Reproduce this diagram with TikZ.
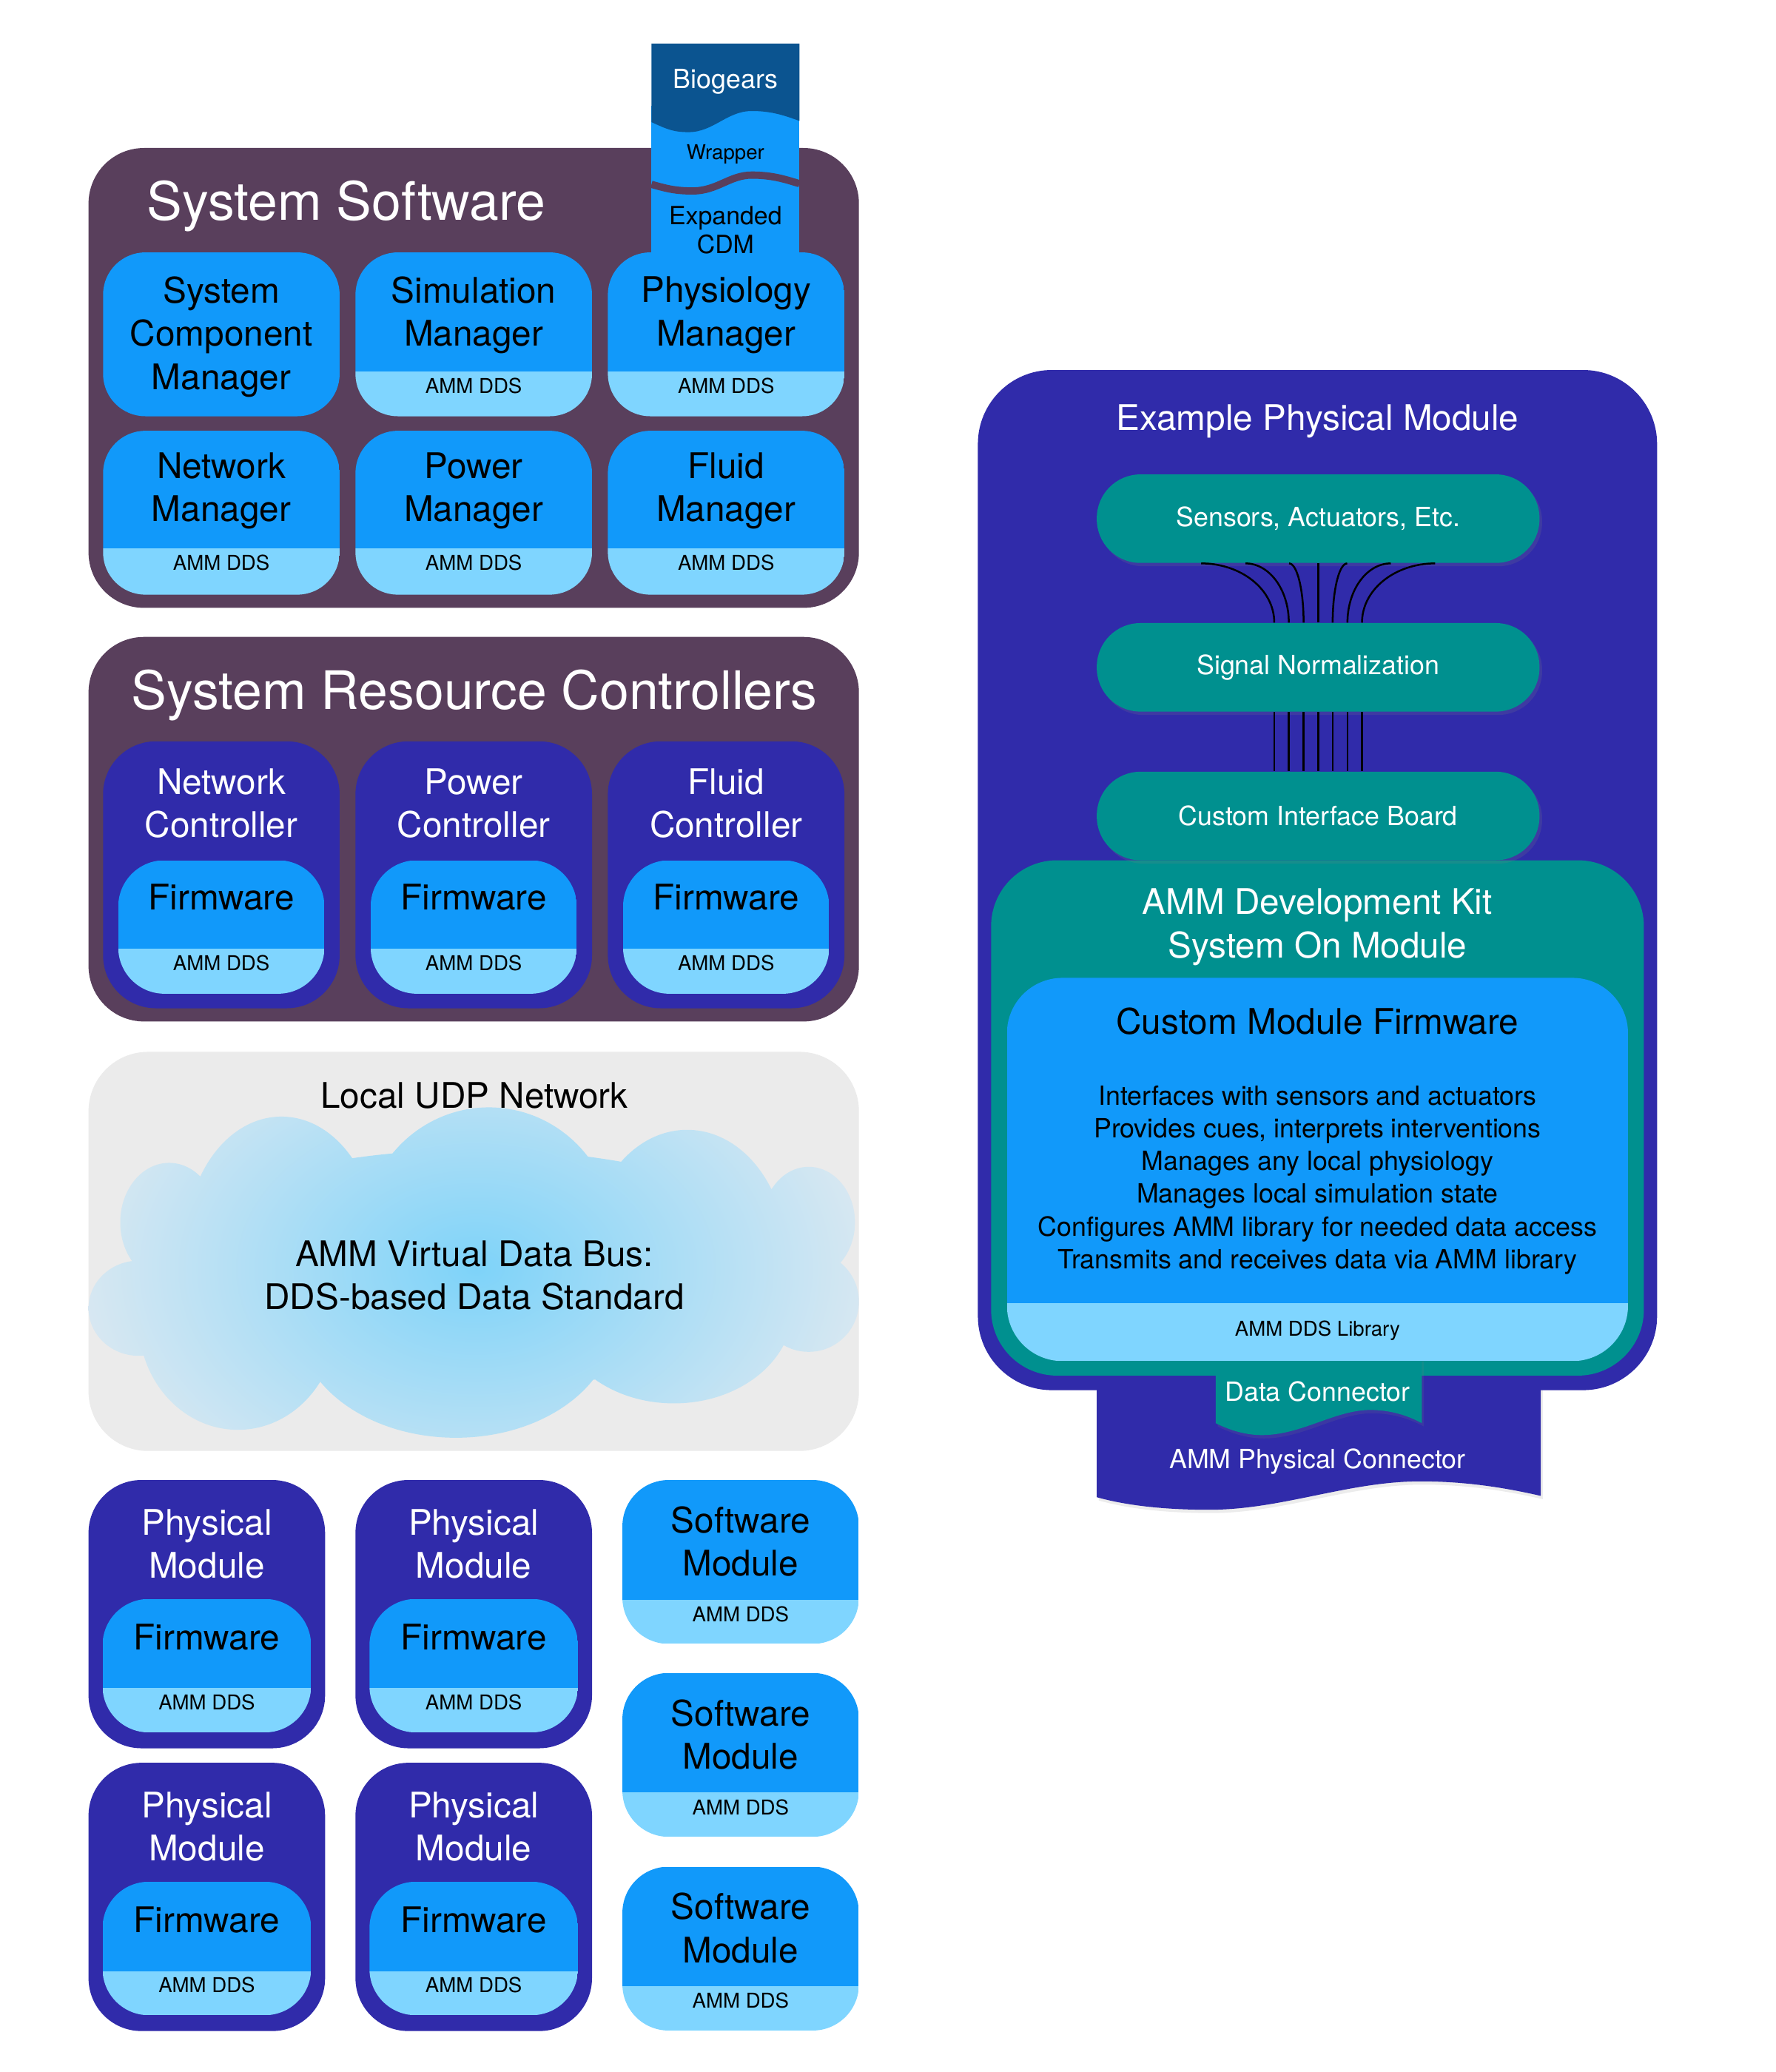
\documentclass[tikz,border=0pt]{standalone}
\usepackage{fontspec}
\setmainfont{TeX Gyre Heros}
\usetikzlibrary{calc,shadows}
\definecolor{purp}{RGB}{89,63,92}
\definecolor{indi}{RGB}{48,43,170}
\definecolor{lblue}{RGB}{17,153,250}
\definecolor{pblue}{RGB}{127,213,255}
\definecolor{teal2}{RGB}{0,144,143}
\definecolor{bgdark}{RGB}{11,84,144}
\definecolor{ggray}{RGB}{235,235,235}
\definecolor{cloudc}{RGB}{126,211,249}
\definecolor{cloude}{RGB}{222,233,241}
\newcommand\fBig{\fontsize{22.8}{27}\selectfont}
\newcommand\fMid{\fontsize{15.2}{18.6}\selectfont}
\newcommand\fSm{\fontsize{11.4}{14.1}\selectfont}
\newcommand\fTiny{\fontsize{8.8}{10.5}\selectfont}
\newcommand\fExp{\fontsize{10.8}{12.5}\selectfont}
\newcommand\ddsbox[6]{%
  \begin{scope}
    \clip[rounded corners=#6] (#1,#2) rectangle (#3,#4);
    \fill[lblue] (#1,#2) rectangle (#3,#5);
    \fill[pblue] (#1,#5) rectangle (#3,#4);
  \end{scope}}
\begin{document}
\begin{tikzpicture}[x=0.2mm,y=-0.2mm,
  txt/.style={inner sep=0pt, align=center},
  wt/.style={txt, text=white},
  bt/.style={txt, text=black},
  pill/.style={fill=teal2, rounded corners=6.6mm, minimum width=67mm, minimum height=13.4mm, inner sep=0pt, text=white, font=\fSm,
    drop shadow={opacity=0.18, shadow xshift=0.4mm, shadow yshift=-0.5mm}},
  tabshadow/.style={drop shadow={opacity=0.15, shadow xshift=0.3mm, shadow yshift=-0.5mm}},
  wire/.style={black, line width=0.8pt}]
\fill[white] (0,0) rectangle (1344,1568);
\useasboundingbox (0,0) rectangle (1344,1568);

% ---------------- System Software ----------------
\fill[purp, rounded corners=8.4mm] (67,112) rectangle (650,460);
\node[wt, font=\fBig] (ss) at (262,156) {System Software};
\fill[lblue, rounded corners=6.4mm] (78,191) rectangle (257,315);
\ddsbox{269}{191}{448}{315}{281}{6.4mm}
\ddsbox{460}{191}{639}{315}{281}{6.4mm}
\ddsbox{78}{326}{257}{450}{415}{6.4mm}
\ddsbox{269}{326}{448}{450}{415}{6.4mm}
\ddsbox{460}{326}{639}{450}{415}{6.4mm}
% Biogears tab
\fill[lblue] (493,80) rectangle (605,200);
\fill[bgdark] (493,33) -- (493,92.4) .. controls (505,98) and (510,100) .. (521,100)
  .. controls (540,100) and (550,84) .. (569,84) .. controls (585,84) and (595,88) .. (605,91.5) -- (605,33) -- cycle;
\draw[purp, line width=1.1mm] (493,139.5) .. controls (505,143) and (512,144.5) .. (524,144.5)
  .. controls (543,144.5) and (552,132.5) .. (569,132.5) .. controls (585,132.5) and (595,136) .. (605,139);
\node[wt, font=\fSm] (bio) at (549,62) {Biogears};
\node[bt, font=\fTiny] (wrap) at (549,117) {Wrapper};
\node[bt, font=\fExp] (cdm) at (549,174) {Expanded\\CDM};
% module texts
\node[bt, font=\fMid] (scm) at (167.5,255) {System\\Component\\Manager};
\node[bt, font=\fMid] (simm) at (358.5,238.5) {Simulation\\Manager};
\node[bt, font=\fMid] (phym) at (549.5,238.5) {Physiology\\Manager};
\node[bt, font=\fTiny] (simd) at (358.5,292) {AMM DDS};
\node[bt, font=\fTiny] (phyd) at (549.5,292) {AMM DDS};
\node[bt, font=\fMid] (netm) at (167.5,371.5) {Network\\Manager};
\node[bt, font=\fMid] (powm) at (358.5,371.5) {Power\\Manager};
\node[bt, font=\fMid] (flum) at (549.5,371.5) {Fluid\\Manager};
\node[bt, font=\fTiny] (netd) at (167.5,426) {AMM DDS};
\node[bt, font=\fTiny] (powd) at (358.5,426) {AMM DDS};
\node[bt, font=\fTiny] (flud) at (549.5,426) {AMM DDS};

% ---------------- System Resource Controllers ----------------
\fill[purp, rounded corners=8.4mm] (67,482) rectangle (650,773);
\node[wt, font=\fBig] (src) at (359,526) {System Resource Controllers};
\foreach \x/\n in {78/Network,269/Power,460/Fluid}{
  \fill[indi, rounded corners=8mm] (\x,561) rectangle (\x+179,763);
  \ddsbox{\x+11.5}{651}{\x+167.5}{752}{718}{7mm}
  \node[wt, font=\fMid] (ctl\n) at (\x+89.5,608) {\n\\Controller};
  \node[bt, font=\fMid] (ctlfw\n) at (\x+89.5,679) {Firmware};
  \node[bt, font=\fTiny] (ctldd\n) at (\x+89.5,729) {AMM DDS};
}

% ---------------- Local UDP Network ----------------
\fill[ggray, rounded corners=9mm] (67,796) rectangle (650,1098);
\node[bt, font=\fMid] (udp) at (359,829) {Local UDP Network};
\begin{scope}
  \clip (213,940) ellipse [x radius=14.4mm, y radius=19mm]
        (370,935) ellipse [x radius=19mm, y radius=19.4mm]
        (520,950) ellipse [x radius=15mm, y radius=19mm]
        (612,925) ellipse [x radius=7mm, y radius=8.4mm]
        (612,985) ellipse [x radius=7.6mm, y radius=7.6mm]
        (128,925) ellipse [x radius=7.4mm, y radius=9mm]
        (105,990) ellipse [x radius=7.6mm, y radius=7.2mm]
        (180,1000) ellipse [x radius=15mm, y radius=16.4mm]
        (345,1000) ellipse [x radius=24mm, y radius=17.6mm]
        (510,990) ellipse [x radius=18mm, y radius=14.4mm]
        (360,960) ellipse [x radius=50mm, y radius=18mm];
  \shade[inner color=cloudc, outer color=cloude] (40,740) rectangle (680,1180);
\end{scope}
\node[bt, font=\fMid] (bus) at (359,965) {AMM Virtual Data Bus:\\DDS-based Data Standard};

% ---------------- Physical / Software modules ----------------
\foreach \x/\c/\y/\r in {67/1/1120/1, 269/2/1120/1, 67/1/1334/2, 269/2/1334/2}{
  \fill[indi, rounded corners=8mm] (\x,\y) rectangle (\x+179,\y+203);
  \ddsbox{\x+10.6}{\y+90}{\x+168.4}{\y+191}{\y+157.6}{7mm}
  \node[wt, font=\fMid] (pm\c\r) at (\x+89.5,\y+48.5) {Physical\\Module};
  \node[bt, font=\fMid] (pmfw\c\r) at (\x+89.5,\y+119) {Firmware};
  \node[bt, font=\fTiny] (pmdd\c\r) at (\x+89.5,\y+168) {AMM DDS};
}
\foreach \y/\n in {1120/1, 1266/2, 1412.6/3}{
  \ddsbox{471}{\y}{650}{\y+124}{\y+90.5}{7mm}
  \node[bt, font=\fMid] (sw\n) at (560.5,\y+46.5) {Software\\Module};
  \node[bt, font=\fTiny] (swdd\n) at (560.5,\y+101.5) {AMM DDS};
}

% ---------------- Example Physical Module ----------------
\fill[indi, tabshadow] (830,1000) -- (830,1133) .. controls (855,1140) and (885,1142.5) .. (915,1142.5)
  .. controls (970,1142.5) and (1020,1121) .. (1075,1121) .. controls (1110,1121) and (1140,1126) .. (1166,1132)
  -- (1166,1000) -- cycle;
\fill[indi, rounded corners=11.2mm] (740,280) rectangle (1254,1052);
\node[wt, font=\fMid] (epm) at (997,319) {Example Physical Module};
\fill[teal2, rounded corners=10mm] (750,651) rectangle (1244,1041);
\fill[teal2, tabshadow] (920,1020) -- (920,1077) .. controls (930,1082) and (942,1086) .. (955,1086)
  .. controls (985,1086) and (1010,1067) .. (1037,1067) .. controls (1052,1067) and (1065,1071) .. (1076,1077)
  -- (1076,1020) -- cycle;
\ddsbox{762}{740}{1232}{1030}{986}{8.4mm}
\node[wt, font=\fMid] (devkit) at (997,701.5) {AMM Development Kit\\System On Module};
\node[bt, font=\fMid] (cmf) at (997,773) {Custom Module Firmware};
\node[bt, font=\fSm] (cmfbody) at (997,893) {Interfaces with sensors and actuators\\Provides cues, interprets interventions\\Manages any local physiology\\Manages local simulation state\\Configures AMM library for needed data access\\Transmits and receives data via AMM library};
\node[bt, font=\fTiny] (ddslib) at (997,1007) {AMM DDS Library};
\node[wt, font=\fSm] (dcon) at (997,1053) {Data Connector};
\node[wt, font=\fSm] (pcon) at (997,1106) {AMM Physical Connector};

\node[pill] (sens) at (997.5,392.5) {Sensors, Actuators, Etc.};
\node[pill] (sig) at (997.5,505) {Signal Normalization};
\node[pill] (cib) at (997.5,617.5) {Custom Interface Board};

\foreach \a/\b in {-88.5/-33.2, -55/-22.2, -22/-11, 22/11, 55/22.2, 88.5/33.2}
  \draw[wire] ($(sens.south)+(\a,0)$) .. controls ($(sens.south)+({\a+0.55*(\b-\a)},0)$) and ($(sig.north)+(\b,-25)$) .. ($(sig.north)+(\b,0)$);
\draw[wire] (sens.south) -- (sig.north);
\foreach \b in {-33.2,-22.2,-11,0,11,22.2,33.2}
  \draw[wire] ($(sig.south)+(\b,0)$) -- ($(cib.north)+(\b,0)$);
\end{tikzpicture}
\end{document}
